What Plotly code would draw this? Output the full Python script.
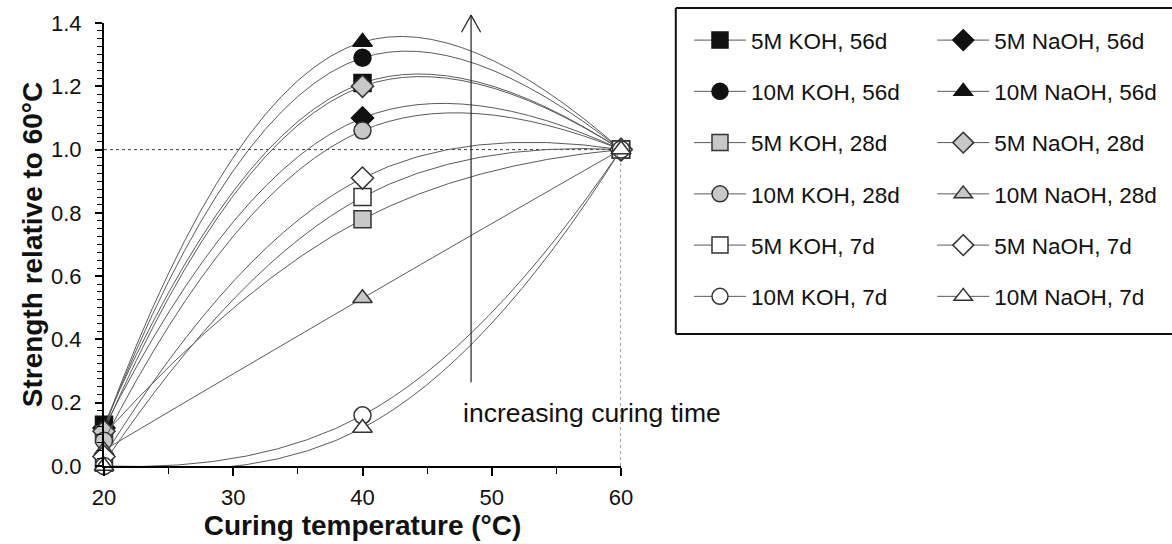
import plotly.graph_objects as go

# ---- data ----
temps = [20, 40, 60]
labels_koh = ["5M KOH, 56d", "10M KOH, 56d", "5M KOH, 28d", "10M KOH, 28d", "5M KOH, 7d", "10M KOH, 7d"]
labels_naoh = ["5M NaOH, 56d", "10M NaOH, 56d", "5M NaOH, 28d", "10M NaOH, 28d", "5M NaOH, 7d", "10M NaOH, 7d"]

koh5_56 = [0.13, 1.21, 1.00]
naoh5_56 = [0.12, 1.10, 1.00]
koh10_56 = [0.12, 1.29, 1.00]
naoh10_56 = [0.12, 1.34, 1.00]
koh5_28 = [0.10, 0.78, 1.00]
naoh5_28 = [0.11, 1.20, 1.00]
koh10_28 = [0.08, 1.06, 1.00]
naoh10_28 = [0.05, 0.53, 1.00]
koh5_7 = [0.01, 0.85, 1.00]
naoh5_7 = [0.03, 0.91, 1.00]
koh10_7 = [0.00, 0.16, 1.00]
naoh10_7 = [0.00, 0.12, 1.00]

x_ticks = [20, 30, 40, 50, 60]
y_ticks = [0.0, 0.2, 0.4, 0.6, 0.8, 1.0, 1.2, 1.4]

FONT = "Liberation Sans, Arial, Helvetica, sans-serif"
BLACK = "#111111"
GREY = "#c8c8c8"
WHITE = "#ffffff"
EDGE = "#333333"
LINE = "#5a5a5a"

# (values, label, symbol, fill, legend)
series = [
    (koh5_56, labels_koh[0], "square", BLACK, "legend"),
    (naoh5_56, labels_naoh[0], "diamond", BLACK, "legend2"),
    (koh10_56, labels_koh[1], "circle", BLACK, "legend"),
    (naoh10_56, labels_naoh[1], "triangle-up", BLACK, "legend2"),
    (koh5_28, labels_koh[2], "square", GREY, "legend"),
    (naoh5_28, labels_naoh[2], "diamond", GREY, "legend2"),
    (koh10_28, labels_koh[3], "circle", GREY, "legend"),
    (naoh10_28, labels_naoh[3], "triangle-up", GREY, "legend2"),
    (koh5_7, labels_koh[4], "square", WHITE, "legend"),
    (naoh5_7, labels_naoh[4], "diamond", WHITE, "legend2"),
    (koh10_7, labels_koh[5], "circle", WHITE, "legend"),
    (naoh10_7, labels_naoh[5], "triangle-up", WHITE, "legend2"),
]

fig = go.Figure()
for i, (vals, name, sym, fill, leg) in enumerate(series):
    edge = BLACK if fill == BLACK else EDGE
    fig.add_trace(go.Scatter(
        x=temps, y=vals, name=name, mode="lines+markers",
        line=dict(color=LINE, width=1, shape="spline", smoothing=1.3),
        marker=dict(symbol=sym, size=17, color=fill, line=dict(color=edge, width=1.5)),
        legend=leg, legendgroup=f"g{i}", cliponaxis=False,
    ))

tickfont = dict(family=FONT, size=22, color="#111111")
titlefont = dict(family=FONT, size=28, color="#111111", weight="bold")
legfont = dict(family=FONT, size=22.5, color="#111111")
leg_y = 0.6716

fig.update_layout(
    width=1172, height=544,
    margin=dict(l=104, r=551, t=23, b=78, autoexpand=False),
    paper_bgcolor="white", plot_bgcolor="white",
    font=dict(family=FONT, color="#111111"),
    xaxis=dict(range=[20, 60], tickvals=x_ticks, ticktext=[str(v) for v in x_ticks],
               ticks="outside", ticklen=8, tickwidth=1.5, tickcolor="black", automargin=False,
               showline=True, linecolor="black", linewidth=2, showgrid=False, zeroline=False,
               tickfont=tickfont, ticklabelstandoff=3,
               minor=dict(dtick=5, ticks="outside", ticklen=6, tickwidth=1, tickcolor="black", showgrid=False),
               title=dict(text="Curing temperature (°C)", font=titlefont, standoff=6)),
    yaxis=dict(range=[0, 1.4], tickvals=y_ticks, ticktext=[f"{v:.1f}" for v in y_ticks],
               ticks="outside", ticklen=7, tickwidth=1.5, tickcolor="black", automargin=False,
               showline=True, linecolor="black", linewidth=2, showgrid=False, zeroline=False,
               tickfont=tickfont, ticklabelstandoff=9,
               minor=dict(dtick=0.025, ticks="outside", ticklen=5, tickwidth=1, tickcolor="black", showgrid=False),
               title=dict(text="Strength relative to 60°C", font=titlefont, standoff=0)),
    xaxis2=dict(overlaying="x", anchor="y", range=[20, 60], tickvals=x_ticks, ticks="inside",
                ticklen=7, tickwidth=1.5, tickcolor="black", showticklabels=False, automargin=False,
                showline=False, showgrid=False, zeroline=False),
    yaxis2=dict(overlaying="y", anchor="x", range=[0, 1.4], tickvals=y_ticks, ticks="inside",
                ticklen=6, tickwidth=1.5, tickcolor="black", showticklabels=False, automargin=False,
                showline=False, showgrid=False, zeroline=False),
    legend=dict(x=1.1315, y=leg_y, xanchor="left", yanchor="middle", orientation="v",
                bgcolor="rgba(0,0,0,0)", borderwidth=0, itemwidth=52, tracegroupgap=19,
                font=legfont),
    legend2=dict(x=1.602, y=leg_y, xanchor="left", yanchor="middle", orientation="v",
                 bgcolor="rgba(0,0,0,0)", borderwidth=0, itemwidth=52, tracegroupgap=19,
                 font=legfont),
    showlegend=True,
)

# reference lines (dotted)
fig.add_shape(type="line", xref="x", yref="y", x0=20, x1=60, y0=1.0, y1=1.0,
              line=dict(color="#444444", width=1, dash="dot"), layer="below")
fig.add_shape(type="line", xref="x", yref="y", x0=60, x1=60, y0=0, y1=1.0,
              line=dict(color="#444444", width=1, dash="dot"), layer="below")

# arrow "increasing curing time"
ax_x = 48.4
y_top = 1.425 / 1.4
y_arm = 1.371 / 1.4
fig.add_shape(type="line", xref="x", yref="paper", x0=ax_x, x1=ax_x, y0=0.265 / 1.4, y1=y_top,
              line=dict(color="#222222", width=1.2))
fig.add_shape(type="line", xref="x", yref="paper", x0=ax_x - 0.74, x1=ax_x, y0=y_arm, y1=y_top,
              line=dict(color="#222222", width=1.2))
fig.add_shape(type="line", xref="x", yref="paper", x0=ax_x + 0.74, x1=ax_x, y0=y_arm, y1=y_top,
              line=dict(color="#222222", width=1.2))
fig.add_annotation(x=47.6, y=0.167, xref="x", yref="y", text="increasing curing time",
                   showarrow=False, xanchor="left", yanchor="middle",
                   font=dict(family=FONT, size=26.5, color="#111111"))

# legend box (right side runs past the picture edge)
bx0, bx1, by0, by1 = 1.106, 2.3, 0.298, 1.034
box_line = dict(color="#111111", width=2)
fig.add_shape(type="line", xref="paper", yref="paper", x0=bx0, x1=bx1, y0=by1, y1=by1, line=box_line)
fig.add_shape(type="line", xref="paper", yref="paper", x0=bx0, x1=bx1, y0=by0, y1=by0, line=box_line)
fig.add_shape(type="line", xref="paper", yref="paper", x0=bx0, x1=bx0, y0=by0, y1=by1, line=box_line)

fig.write_html("out.html", config={"displayModeBar": False},
               post_script="document.body.style.margin='0px';document.body.style.overflow='hidden';")
